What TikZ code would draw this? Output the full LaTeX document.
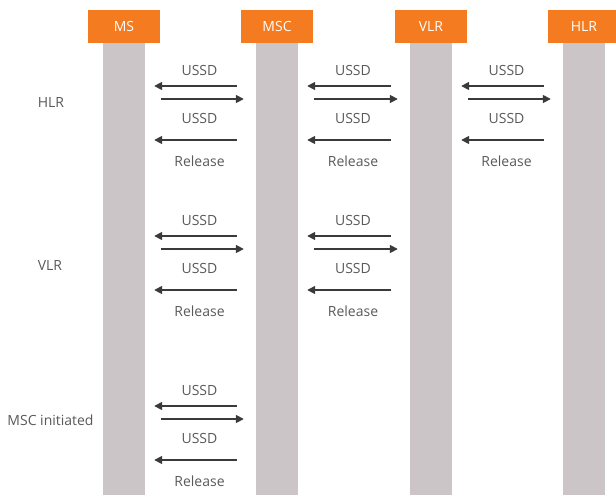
\documentclass[tikz,border=0pt]{standalone}
\usepackage{fontspec}
\setmainfont{Open Sans}
\usepackage{tikz}
\usetikzlibrary{arrows.meta,calc}
\definecolor{hdrorange}{HTML}{F47B20}
\definecolor{lanegray}{HTML}{CBC5C8}
\definecolor{txtgray}{HTML}{58595B}
\definecolor{arrgray}{HTML}{3A3A3A}

\begin{document}
\begin{tikzpicture}[x=1pt,y=-1pt,
    hdr/.style={fill=hdrorange,text=white,minimum width=72pt,minimum height=33pt,inner sep=0pt,font=\fontsize{14}{16}\selectfont},
    lane/.style={fill=lanegray,minimum width=42pt,minimum height=452pt,inner sep=0pt,anchor=north},
    msg/.style={-{Triangle[length=8pt,width=8pt]},line width=1.6pt,draw=arrgray},
    lbl/.style={text=txtgray,inner sep=0pt,font=\fontsize{14}{16}\selectfont}]
    \useasboundingbox (0,0) rectangle (616,495);

    % entities and their lanes
    \foreach \n/\t/\x in {ms/MS/124,msc/MSC/277,vlr/VLR/431,hlr/HLR/584}{
        \node[lane] (\n L) at (\x,43) {};
        \node[hdr] (\n) at (\x,26.5) {\t};
    }

    % USSD exchanges
    \foreach \a/\b/\y [count=\i] in {ms/msc/86,msc/vlr/86,vlr/hlr/86,ms/msc/236,msc/vlr/236,ms/msc/406}{
        \draw[msg] ($(\b L.west |- 0,\y)+(-19,0)$) -- ($(\a L.east |- 0,\y)+(9,0)$);
        \draw[msg] ($(\a L.east |- 0,\y+13)+(16,0)$) -- ($(\b L.west |- 0,\y+13)+(-12,0)$);
        \draw[msg] ($(\b L.west |- 0,\y+54)+(-19,0)$) -- ($(\a L.east |- 0,\y+54)+(9,0)$);
        \node[lbl] (up\i) at ($(\a L.east |- 0,\y-16)!0.5!(\b L.west |- 0,\y-16)+(-1,0)$) {USSD};
        \node[lbl] (dn\i) at ($(\a L.east |- 0,\y+32)!0.5!(\b L.west |- 0,\y+32)+(-1,0)$) {USSD};
        \node[lbl] (rel\i) at ($(\a L.east |- 0,\y+75)!0.5!(\b L.west |- 0,\y+75)+(-1,0)$) {Release};
    }

    % cases
    \node[lbl] (caseHLR) at (51,103) {HLR};
    \node[lbl] (caseVLR) at (50,266) {VLR};
    \node[lbl] (caseMSC) at (50.5,420) {MSC initiated};
\end{tikzpicture}
\end{document}
